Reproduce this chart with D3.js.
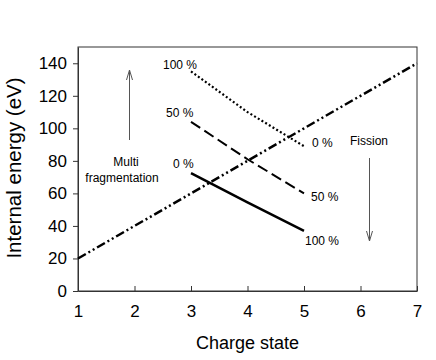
<!DOCTYPE html>
<html>
<head>
<meta charset="utf-8">
<script src="https://cdn.jsdelivr.net/npm/d3@7"></script>
<style>
  body { margin: 0; background: #fff; }
  text { font-family: "Liberation Sans", Arial, sans-serif; fill: #000; }
</style>
</head>
<body>
<svg id="chart" width="436" height="360"></svg>
<script>
// charge states and internal energies (eV)
const chargeStates = [1, 2, 3, 4, 5, 6, 7];
const fragEnergy = [20, 40, 60, 80, 100, 120, 140];
const ratioCharges = [3, 4, 5];
const dotted100 = [135, 110, 89];
const dashed50 = [104, 81, 60];
const solid0 = [72.5, 54.5, 37];
const xTicks = [1, 2, 3, 4, 5, 6, 7];
const yTicks = [0, 20, 40, 60, 80, 100, 120, 140];

const svg = d3.select('#chart');
const margin = { left: 78, right: 19, top: 47, bottom: 69 };
const width = +svg.attr('width');
const height = +svg.attr('height');

const x = d3.scaleLinear().domain([1, 7]).range([margin.left, width - margin.right]);
const y = d3.scaleLinear().domain([0, 150]).range([height - margin.bottom, margin.top]);

// frame
svg.append('rect')
  .attr('x', x(1)).attr('y', y(150))
  .attr('width', x(7) - x(1)).attr('height', y(0) - y(150))
  .attr('fill', 'none').attr('stroke', '#333').attr('stroke-width', 1);

const xAxis = svg.append('g')
  .attr('transform', `translate(0,${y(0)})`)
  .call(d3.axisBottom(x).tickValues(xTicks).tickFormat(d3.format('d'))
    .tickSizeInner(-5).tickSizeOuter(0).tickPadding(14));
const yAxis = svg.append('g')
  .attr('transform', `translate(${x(1)},0)`)
  .call(d3.axisLeft(y).tickValues(yTicks).tickSize(5).tickSizeOuter(0).tickPadding(6));
[xAxis, yAxis].forEach((a) => {
  a.select('.domain').attr('stroke', '#333');
  a.selectAll('line').attr('stroke', '#333');
  a.selectAll('text').style('font-size', '17px').style('font-family', '"Liberation Sans", Arial, sans-serif');
});

svg.append('text')
  .attr('x', (x(1) + x(7)) / 2).attr('y', 349)
  .attr('text-anchor', 'middle').style('font-size', '18px')
  .text('Charge state');
svg.append('text')
  .attr('transform', `translate(21,${(y(0) + y(150)) / 2 - 1}) rotate(-90)`)
  .attr('text-anchor', 'middle').style('font-size', '20.5px')
  .text('Internal energy (eV)');

const line = d3.line().x(d => x(d[0])).y(d => y(d[1]));

svg.append('path')
  .datum(chargeStates.map((c, i) => [c, fragEnergy[i]]))
  .attr('d', line).attr('fill', 'none').attr('stroke', '#000')
  .attr('stroke-width', 2.5).attr('stroke-dasharray', '9,3,2,3,2,3');

svg.append('path')
  .datum(ratioCharges.map((c, i) => [c, dotted100[i]]))
  .attr('d', line).attr('fill', 'none').attr('stroke', '#000')
  .attr('stroke-width', 2.2).attr('stroke-dasharray', '2,2.3');

svg.append('path')
  .datum(ratioCharges.map((c, i) => [c, dashed50[i]]))
  .attr('d', line).attr('fill', 'none').attr('stroke', '#000')
  .attr('stroke-width', 2).attr('stroke-dasharray', '11,5');

svg.append('path')
  .datum(ratioCharges.map((c, i) => [c, solid0[i]]))
  .attr('d', line).attr('fill', 'none').attr('stroke', '#000')
  .attr('stroke-width', 2.5);

// annotations
const notes = [
  { t: '100 %', x: 163, y: 69 },
  { t: '50 %', x: 166, y: 117 },
  { t: '0 %', x: 173, y: 168 },
  { t: '0 %', x: 312, y: 147 },
  { t: '50 %', x: 311, y: 201 },
  { t: '100 %', x: 305, y: 245 },
  { t: 'Fission', x: 350, y: 145 },
];
svg.selectAll('.note').data(notes).enter().append('text')
  .attr('class', 'note')
  .attr('x', d => d.x).attr('y', d => d.y)
  .style('font-size', '12px')
  .text(d => d.t);
svg.append('text').attr('x', 126).attr('y', 166).attr('text-anchor', 'middle')
  .style('font-size', '12px').text('Multi');
svg.append('text').attr('x', 122).attr('y', 182).attr('text-anchor', 'middle')
  .style('font-size', '12px').text('fragmentation');

// arrows
function arrow(x0, y0, y1) {
  const dir = y1 < y0 ? 1 : -1;
  svg.append('path')
    .attr('d', `M${x0},${y0}L${x0},${y1}M${x0 - 3},${y1 + dir * 10}L${x0},${y1}L${x0 + 3},${y1 + dir * 10}`)
    .attr('fill', 'none').attr('stroke', '#555').attr('stroke-width', 1);
}
arrow(129.5, 140, 70);
arrow(369.5, 158, 241);
</script>
</body>
</html>
